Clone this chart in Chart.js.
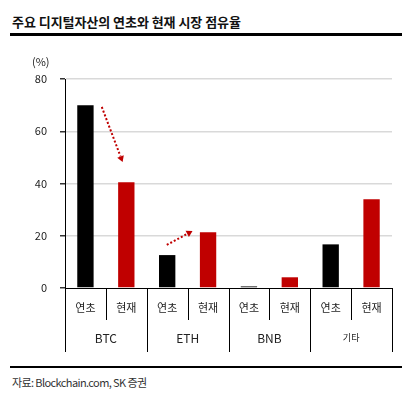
<!DOCTYPE html>
<html>
<head>
<meta charset="utf-8">
<script src="https://cdn.jsdelivr.net/npm/chart.js@4/dist/chart.umd.min.js"></script>
<style>
  body { margin: 0; width: 402px; height: 394px; background: #fff; position: relative; overflow: hidden;
         font-family: "Noto Sans CJK KR", "Noto Sans", sans-serif; }
  #title { position: absolute; left: 12px; top: 12px; font-size: 13px; font-weight: bold; color: #111; letter-spacing: -0.05px; white-space: nowrap; }
  #titleLine { position: absolute; left: 10px; right: 0; top: 33px; height: 2.5px; background: #000; }
  #wrap { position: absolute; left: 0; top: 40px; width: 402px; height: 312px; }
  #footLine { position: absolute; left: 10px; right: 0; top: 366px; height: 1.5px; background: #000; }
  #source { position: absolute; left: 12px; top: 374px; font-size: 11px; color: #333; letter-spacing: -0.6px; white-space: nowrap; }
</style>
</head>
<body>
<div id="title">주요 디지털자산의 연초와 현재 시장 점유율</div>
<div id="titleLine"></div>
<div id="wrap"><canvas id="chart"></canvas></div>
<div id="footLine"></div>
<div id="source">자료: Blockchain.com, SK 증권</div>
<script>
// market share (%) — start of year vs now
const assets = ["BTC", "ETH", "BNB", "기타"];
const periods = ["연초", "현재"];
const startShare = [70, 12.6, 0.6, 16.7];
const currentShare = [40.5, 21.3, 4.1, 34];
const yTicks = [0, 20, 40, 60, 80];

// dotted arrows in data units: [category index, value]
const arrows = [
  { from: [0.40, 69.3], to: [0.91, 48.2] },
  { from: [1.99, 16.5], to: [2.62, 21.8] },
];

const labels = [];
const values = [];
const colors = [];
assets.forEach((a, i) => {
  labels.push(periods[0], periods[1]);
  values.push(startShare[i], currentShare[i]);
  colors.push("#000000", "#c00000");
});

const FONT = "'Noto Sans CJK KR', 'Noto Sans', sans-serif";

const tablePlugin = {
  id: "tablePlugin",
  afterDraw(chart) {
    const ctx = chart.ctx;
    const x = chart.scales.x;
    const y = chart.scales.y;
    const bottom = chart.chartArea.bottom;
    const half = (x.getPixelForValue(1) - x.getPixelForValue(0)) / 2;

    ctx.save();
    ctx.strokeStyle = "#000";
    ctx.lineWidth = 1;
    for (let i = 0; i <= labels.length; i++) {
      const px = Math.round(x.getPixelForValue(i) - half) + 0.5;
      const len = i % 2 === 0 ? 64 : 32;
      ctx.beginPath();
      ctx.moveTo(px, bottom);
      ctx.lineTo(px, bottom + len);
      ctx.stroke();
    }

    ctx.fillStyle = "#222";
    ctx.textAlign = "center";
    ctx.textBaseline = "middle";
    ctx.font = "11px " + FONT;
    labels.forEach((l, i) => ctx.fillText(l, x.getPixelForValue(i), bottom + 20));
    assets.forEach((a, i) => {
      const cx = (x.getPixelForValue(i * 2) + x.getPixelForValue(i * 2 + 1)) / 2;
      ctx.font = (/[A-Z]/.test(a) ? "12px " : "9px ") + FONT;
      ctx.fillText(a, cx, bottom + 50);
    });

    // (%) unit label
    ctx.font = "11px " + FONT;
    ctx.textAlign = "left";
    ctx.fillText("(%)", 32, y.getPixelForValue(80) - 17);

    // dotted arrows
    ctx.strokeStyle = "#c00000";
    ctx.fillStyle = "#c00000";
    ctx.lineWidth = 2;
    arrows.forEach(a => {
      const x1 = x.getPixelForValue(a.from[0]), y1 = y.getPixelForValue(a.from[1]);
      const x2 = x.getPixelForValue(a.to[0]), y2 = y.getPixelForValue(a.to[1]);
      const ang = Math.atan2(y2 - y1, x2 - x1);
      const hx = x2 - 6 * Math.cos(ang), hy = y2 - 6 * Math.sin(ang);
      ctx.setLineDash([2, 2]);
      ctx.beginPath();
      ctx.moveTo(x1, y1);
      ctx.lineTo(hx, hy);
      ctx.stroke();
      ctx.setLineDash([]);
      ctx.beginPath();
      ctx.moveTo(x2, y2);
      ctx.lineTo(hx + 3.5 * Math.sin(ang), hy - 3.5 * Math.cos(ang));
      ctx.lineTo(hx - 3.5 * Math.sin(ang), hy + 3.5 * Math.cos(ang));
      ctx.closePath();
      ctx.fill();
    });
    ctx.restore();
  },
};

new Chart(document.getElementById("chart"), {
  type: "bar",
  data: {
    labels: labels,
    datasets: [{
      data: values,
      backgroundColor: colors,
      barPercentage: 0.4,
      categoryPercentage: 1,
    }],
  },
  options: {
    responsive: true,
    maintainAspectRatio: false,
    animation: false,
    layout: { padding: { top: 39, right: 10, bottom: 0, left: 0 } },
    plugins: { legend: { display: false }, tooltip: { enabled: false } },
    scales: {
      x: {
        ticks: { display: false },
        grid: { display: false },
        border: { display: true, color: "#000", width: 1 },
        afterFit(scale) { scale.height = 64; },
      },
      y: {
        min: 0,
        max: 80,
        afterFit(scale) { scale.width = 65; },
        afterBuildTicks(scale) { scale.ticks = yTicks.map(v => ({ value: v })); },
        ticks: { padding: 13, color: "#222", font: { family: FONT, size: 11 } },
        grid: {
          color: ctx => (ctx.tick && ctx.tick.value === 0 ? "rgba(0,0,0,0)" : "#d9d9d9"),
          tickColor: "#333",
          tickLength: 5,
          lineWidth: 1.5,
        },
        border: { display: true, color: "#000", width: 1 },
      },
    },
  },
  plugins: [tablePlugin],
});
</script>
</body>
</html>
